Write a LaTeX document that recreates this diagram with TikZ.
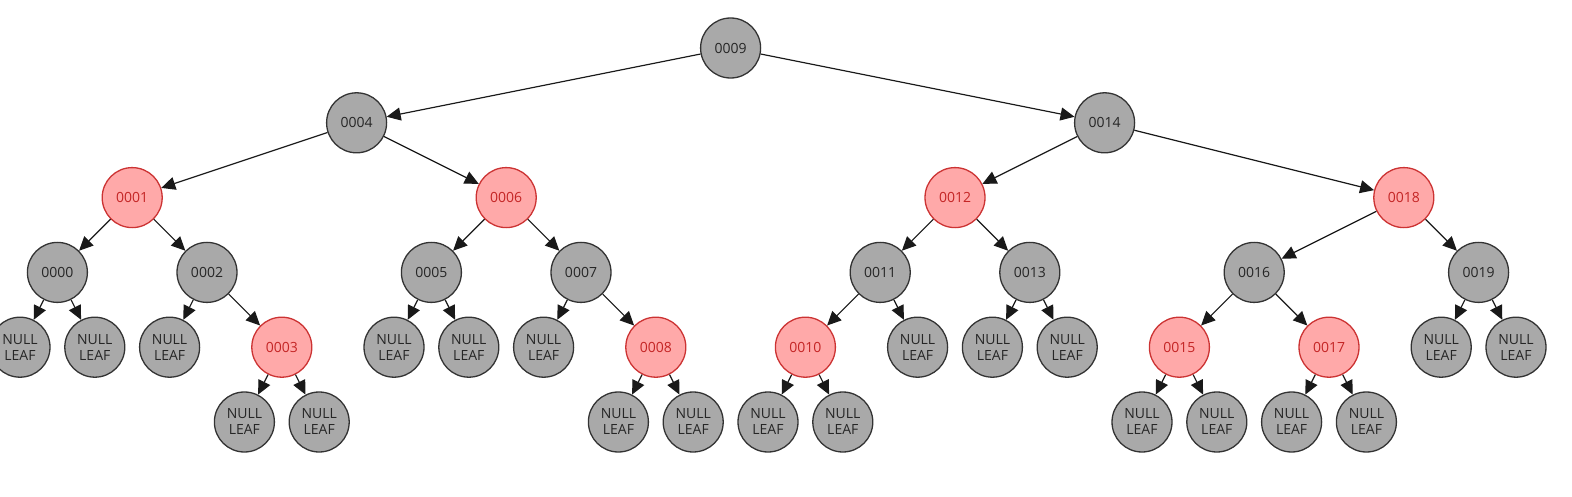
\documentclass[tikz,border=0pt]{standalone}
\usepackage{fontspec}
\setmainfont{Open Sans}
\usetikzlibrary{arrows.meta}

\definecolor{nodegray}{HTML}{A9A9A9}
\definecolor{nodeedge}{HTML}{333333}
\definecolor{redfill}{HTML}{FFA9A9}
\definecolor{rededge}{HTML}{CC3333}
\definecolor{redtext}{HTML}{C42525}

\tikzset{
  blacknode/.style={circle, minimum size=60pt, inner sep=0pt, line width=1.3pt,
    draw=nodeedge, fill=nodegray, text=black!85, font=\fontsize{14}{16}\selectfont, align=center},
  rednode/.style={blacknode, draw=rededge, fill=redfill, text=redtext},
  treeedge/.style={line width=1.2pt, draw=black!90, -{Triangle[length=14pt,width=13pt]}}
}

\begin{document}
\begin{tikzpicture}[x=1pt,y=1pt]
                        \useasboundingbox (0,0) rectangle (1572,-497);
                        {

                        % Marking key nodes (name/label/column/depth/style)
                        \foreach \k/\lab/\i/\d/\s in {9/0009/19/0/blacknode, 4/0004/9/1/blacknode, 14/0014/29/1/blacknode,
                            1/0001/3/2/rednode, 6/0006/13/2/rednode, 12/0012/25/2/rednode, 18/0018/37/2/rednode,
                            0/0000/1/3/blacknode, 2/0002/5/3/blacknode, 5/0005/11/3/blacknode, 7/0007/15/3/blacknode,
                            11/0011/23/3/blacknode, 13/0013/27/3/blacknode, 16/0016/33/3/blacknode, 19/0019/39/3/blacknode,
                            3/0003/7/4/rednode, 8/0008/17/4/rednode, 10/0010/21/4/rednode, 15/0015/31/4/rednode, 17/0017/35/4/rednode}
                          \node [\s] (n\k) at ({20+37.4*\i},{-48-74.8*\d}) {\lab};%

                        % Drawing lines between key nodes
                        \foreach \a/\b in {9/4, 9/14, 4/1, 4/6, 1/0, 1/2, 2/3, 6/5, 6/7, 7/8,
                            14/12, 14/18, 12/11, 12/13, 11/10, 18/16, 18/19, 16/15, 16/17}
                          \draw [treeedge] (n\a) -- (n\b);%

                        % Marking null leaves and their lines (column/depth/parent)
                        \foreach \i/\d/\p in {0/4/0, 2/4/0, 4/4/2, 6/5/3, 8/5/3, 10/4/5, 12/4/5, 14/4/7,
                            16/5/8, 18/5/8, 20/5/10, 22/5/10, 24/4/11, 26/4/13, 28/4/13,
                            30/5/15, 32/5/15, 34/5/17, 36/5/17, 38/4/19, 40/4/19}
                        {
                          \node [blacknode] (leaf\i) at ({20+37.4*\i},{-48-74.8*\d}) {NULL\\LEAF};%
                          \draw [treeedge] (n\p) -- (leaf\i);%
                        }
                        }
                    \end{tikzpicture}
\end{document}
